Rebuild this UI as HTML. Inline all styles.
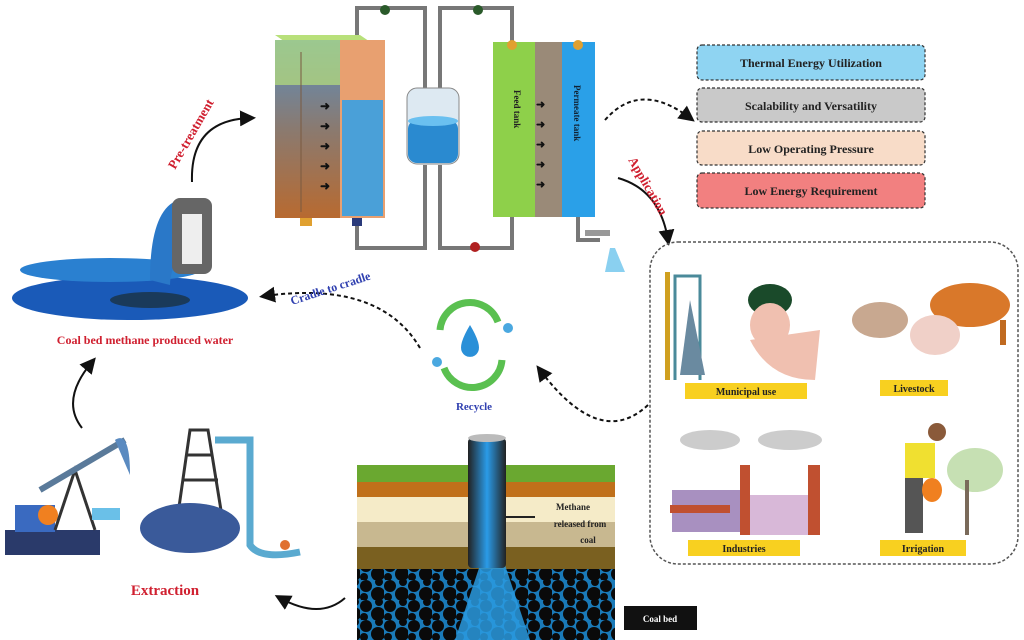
<!DOCTYPE html>
<html><head><meta charset="utf-8"><style>
html,body{margin:0;padding:0;background:#fff;width:1024px;height:640px;overflow:hidden}
svg{display:block}
text{font-family:"Liberation Serif",serif;font-weight:bold}
</style></head><body>
<svg width="1024" height="640" viewBox="0 0 1024 640" xmlns="http://www.w3.org/2000/svg">
<defs>
<linearGradient id="lt" x1="0" y1="0" x2="0" y2="1"><stop offset="0" stop-color="#5a8fc0"/><stop offset="0.5" stop-color="#8a7a70"/><stop offset="1" stop-color="#b86a30"/></linearGradient>
<linearGradient id="pipe" x1="0" y1="0" x2="1" y2="0"><stop offset="0" stop-color="#222"/><stop offset="0.5" stop-color="#2a9be8"/><stop offset="1" stop-color="#222"/></linearGradient>
<pattern id="coal" width="24" height="20" patternUnits="userSpaceOnUse">
<rect width="24" height="20" fill="#1a7ab8"/>
<circle cx="6" cy="6" r="6" fill="#0a0a0a"/><circle cx="18" cy="14" r="7" fill="#0a0a0a"/><circle cx="19" cy="2" r="4" fill="#0a0a0a"/><circle cx="4" cy="17" r="4" fill="#0a0a0a"/>
</pattern>
<marker id="ah" markerWidth="8" markerHeight="8" refX="5" refY="4" orient="auto"><path d="M0,0 L8,4 L0,8 Z" fill="#111"/></marker>
</defs>

<g fill="none" stroke="#777" stroke-width="4">
<path d="M357 40 V8 H425 V90"/>
<path d="M440 90 V8 H512 V45"/>
<path d="M357 220 V248 H425 V165"/>
<path d="M440 165 V248 H512 V215"/>
<path d="M578 215 V240 H600"/>
</g>
<circle cx="385" cy="10" r="5" fill="#2a5a2a"/><circle cx="478" cy="10" r="5" fill="#2a5a2a"/>
<circle cx="475" cy="247" r="5" fill="#b02020"/>

<polygon points="275,35 360,35 385,52 300,52" fill="#b8e07a"/>
<rect x="275" y="40" width="65" height="178" fill="url(#lt)"/>
<rect x="275" y="40" width="65" height="45" fill="#b8e07a" opacity="0.7"/>
<rect x="340" y="40" width="45" height="178" fill="#e8a070"/>
<rect x="342" y="100" width="41" height="116" fill="#4aa0d8"/>
<rect x="300" y="52" width="2" height="160" fill="#7a5a40" opacity="0.5"/>
<g fill="#111"><text x="320" y="110" font-size="12">➜</text><text x="320" y="130" font-size="12">➜</text><text x="320" y="150" font-size="12">➜</text><text x="320" y="170" font-size="12">➜</text><text x="320" y="190" font-size="12">➜</text></g>
<rect x="300" y="218" width="12" height="8" fill="#e0a030"/>
<rect x="352" y="218" width="10" height="8" fill="#2a3a7a"/>

<rect x="407" y="88" width="52" height="76" rx="10" fill="#dde9f2" stroke="#888"/>
<rect x="408" y="120" width="50" height="43" rx="9" fill="#2a8ad0"/>
<ellipse cx="433" cy="121" rx="25" ry="5" fill="#6ac0f0"/>

<rect x="493" y="42" width="42" height="175" fill="#8ed04a"/>
<rect x="535" y="42" width="27" height="175" fill="#9a8a78"/>
<rect x="562" y="42" width="33" height="175" fill="#2aa0e8"/>
<g fill="#111"><text x="536" y="108" font-size="11">➜</text><text x="536" y="128" font-size="11">➜</text><text x="536" y="148" font-size="11">➜</text><text x="536" y="168" font-size="11">➜</text><text x="536" y="188" font-size="11">➜</text></g>
<text transform="translate(514,90) rotate(90)" font-size="9" fill="#222">Feed tank</text>
<text transform="translate(574,85) rotate(90)" font-size="9" fill="#123">Permeate tank</text>
<circle cx="512" cy="45" r="5" fill="#e0a030"/><circle cx="578" cy="45" r="5" fill="#e0a030"/>
<rect x="585" y="230" width="25" height="6" fill="#999"/>
<path d="M610 248 L605 272 L625 272 L615 248 Z" fill="#8ad0f0"/>

<g stroke="#333" stroke-dasharray="3,2" stroke-width="1.2">
<rect x="697" y="45" width="228" height="35" rx="5" fill="#8fd4f2"/>
<rect x="697" y="88" width="228" height="34" rx="5" fill="#c9c9c9"/>
<rect x="697" y="131" width="228" height="34" rx="5" fill="#f8dcc8"/>
<rect x="697" y="173" width="228" height="35" rx="5" fill="#f28080"/>
</g>
<g font-size="12" fill="#222" text-anchor="middle">
<text x="811" y="67">Thermal Energy Utilization</text>
<text x="811" y="110">Scalability and Versatility</text>
<text x="811" y="153">Low Operating Pressure</text>
<text x="811" y="195">Low Energy Requirement</text>
</g>

<g fill="none" stroke="#111" stroke-width="2">
<path d="M605 120 Q 640 80 690 118" stroke-dasharray="4,3" marker-end="url(#ah)"/>
<path d="M618 178 Q 660 190 668 240" marker-end="url(#ah)"/>
<path d="M192 182 Q 190 120 250 118" marker-end="url(#ah)"/>
<path d="M420 348 Q 380 280 265 296" stroke-dasharray="4,3" marker-end="url(#ah)"/>
<path d="M648 405 Q 600 450 540 370" stroke-dasharray="4,3" marker-end="url(#ah)"/>
<path d="M82 428 Q 60 400 92 362" marker-end="url(#ah)"/>
<path d="M345 598 Q 320 620 280 598" marker-end="url(#ah)"/>
</g>
<text transform="translate(175,170) rotate(-60)" font-size="13" fill="#d02030">Pre-treatment</text>
<text transform="translate(628,160) rotate(60)" font-size="13" fill="#d02030">Application</text>
<text transform="translate(292,305) rotate(-18)" font-size="12" fill="#3040b0">Cradle to cradle</text>

<rect x="650" y="242" width="368" height="322" rx="28" fill="none" stroke="#555" stroke-width="1.5" stroke-dasharray="3,2"/>
<rect x="665" y="272" width="5" height="108" fill="#d0a020"/>
<path d="M675 380 V276 H700 V380" fill="none" stroke="#4a8a9a" stroke-width="3"/>
<path d="M690 300 L705 375 L680 375 Z" fill="#6a8aa0"/>
<ellipse cx="770" cy="300" rx="22" ry="16" fill="#1a4a2a"/>
<ellipse cx="770" cy="325" rx="20" ry="22" fill="#f0c0b0"/>
<path d="M750 340 Q 770 380 815 380 L820 330 Z" fill="#f0c0b0"/>
<rect x="685" y="383" width="122" height="16" fill="#f8d020"/>
<text x="746" y="395" font-size="10" text-anchor="middle" fill="#222">Municipal use</text>
<ellipse cx="970" cy="305" rx="40" ry="22" fill="#d9782a"/>
<rect x="940" y="320" width="6" height="25" fill="#c06a20"/><rect x="1000" y="320" width="6" height="25" fill="#c06a20"/>
<ellipse cx="880" cy="320" rx="28" ry="18" fill="#c8a890"/>
<ellipse cx="935" cy="335" rx="25" ry="20" fill="#f0d0c8"/>
<rect x="880" y="380" width="68" height="16" fill="#f8d020"/>
<text x="914" y="392" font-size="10" text-anchor="middle" fill="#222">Livestock</text>
<ellipse cx="710" cy="440" rx="30" ry="10" fill="#ccc"/>
<ellipse cx="790" cy="440" rx="32" ry="10" fill="#ccc"/>
<rect x="672" y="490" width="70" height="42" fill="#a890c0"/>
<rect x="740" y="465" width="10" height="70" fill="#c05030"/>
<rect x="750" y="495" width="65" height="40" fill="#d8b8d8"/>
<rect x="808" y="465" width="12" height="70" fill="#c05030"/>
<rect x="670" y="505" width="60" height="8" fill="#c05030"/>
<rect x="688" y="540" width="112" height="16" fill="#f8d020"/>
<text x="744" y="552" font-size="10" text-anchor="middle" fill="#222">Industries</text>
<circle cx="937" cy="432" r="9" fill="#8a5a3a"/>
<rect x="905" y="443" width="30" height="35" fill="#f0e030"/>
<rect x="905" y="478" width="18" height="55" fill="#555"/>
<ellipse cx="932" cy="490" rx="10" ry="12" fill="#f08020"/>
<ellipse cx="975" cy="470" rx="28" ry="22" fill="#b8d8a0" opacity="0.8"/>
<rect x="965" y="480" width="4" height="55" fill="#7a6a5a"/>
<rect x="880" y="540" width="86" height="16" fill="#f8d020"/>
<text x="923" y="552" font-size="10" text-anchor="middle" fill="#222">Irrigation</text>

<path d="M440 330 A 30 30 0 0 1 498 322" fill="none" stroke="#5ac050" stroke-width="7"/>
<path d="M502 360 A 30 30 0 0 1 444 368" fill="none" stroke="#5ac050" stroke-width="7"/>
<path d="M470 325 Q 458 345 462 352 A 9 9 0 0 0 478 352 Q 482 345 470 325Z" fill="#2a90d8"/>
<circle cx="437" cy="362" r="5" fill="#4aa8e0"/><circle cx="508" cy="328" r="5" fill="#4aa8e0"/>
<text x="474" y="410" font-size="11" text-anchor="middle" fill="#3040b0">Recycle</text>

<ellipse cx="130" cy="298" rx="118" ry="22" fill="#1a5ab8"/>
<ellipse cx="110" cy="270" rx="90" ry="12" fill="#2a80d0"/>
<ellipse cx="150" cy="300" rx="40" ry="8" fill="#1a3a5a"/>
<path d="M150 280 Q 150 210 178 200 L182 250 Q 170 270 170 285 Z" fill="#2a78c8"/>
<rect x="172" y="198" width="40" height="76" rx="8" fill="#666"/>
<rect x="182" y="214" width="20" height="50" fill="#eee"/>
<text x="145" y="344" font-size="12" text-anchor="middle" fill="#d02030">Coal bed methane produced water</text>

<rect x="5" y="530" width="95" height="25" fill="#2a3a6a"/>
<rect x="15" y="505" width="40" height="27" fill="#3a6ac0"/>
<circle cx="48" cy="515" r="10" fill="#f08020"/>
<path d="M55 530 L75 470 L95 530" fill="none" stroke="#333" stroke-width="3"/>
<path d="M40 490 L125 440" stroke="#5a7a9a" stroke-width="6"/>
<path d="M115 440 Q 130 430 130 475" fill="#5a8ac0"/>
<rect x="92" y="508" width="28" height="12" fill="#6ac0e8"/>
<path d="M175 535 L190 430 L208 430 L225 535 M182 480 L218 480 M186 455 L212 455" fill="none" stroke="#333" stroke-width="3"/>
<ellipse cx="190" cy="528" rx="50" ry="25" fill="#3a5a9a"/>
<path d="M215 440 H250 V545 Q 260 560 300 552" fill="none" stroke="#5aaad0" stroke-width="7"/>
<circle cx="285" cy="545" r="5" fill="#e07030"/>
<text x="165" y="595" font-size="15" text-anchor="middle" fill="#d02030">Extraction</text>

<rect x="357" y="465" width="258" height="17" fill="#6aa830"/>
<rect x="357" y="482" width="258" height="15" fill="#c0701a"/>
<rect x="357" y="497" width="258" height="25" fill="#f5ebc8"/>
<rect x="357" y="522" width="258" height="25" fill="#c8b890"/>
<rect x="357" y="547" width="258" height="22" fill="#7a6020"/>
<rect x="357" y="569" width="258" height="71" fill="url(#coal)"/>
<path d="M480 565 L455 640 L530 640 L505 565 Z" fill="#2a9adf" opacity="0.85"/>
<rect x="468" y="438" width="38" height="130" rx="4" fill="url(#pipe)"/>
<ellipse cx="487" cy="438" rx="19" ry="4" fill="#bbb"/>
<path d="M505 517 H535" stroke="#222" stroke-width="2"/>
<text x="573" y="510" font-size="9" text-anchor="middle" fill="#222">Methane</text>
<text x="580" y="527" font-size="9" text-anchor="middle" fill="#222">released from</text>
<text x="588" y="543" font-size="9" text-anchor="middle" fill="#222">coal</text>
<rect x="624" y="606" width="73" height="24" fill="#111"/>
<text x="660" y="622" font-size="9" text-anchor="middle" fill="#fff">Coal bed</text>
</svg>
</body></html>
